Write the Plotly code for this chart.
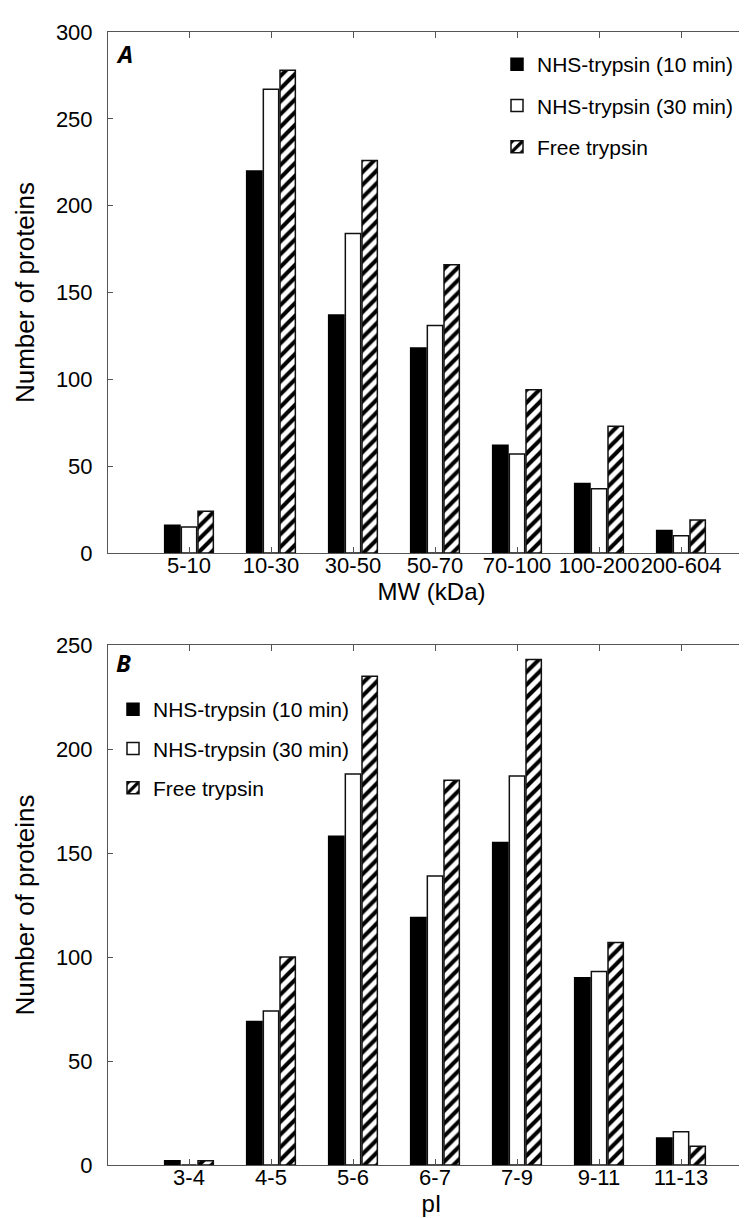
import plotly.graph_objects as go

# ---------------- data ----------------
mw_categories = ["5-10", "10-30", "30-50", "50-70", "70-100", "100-200", "200-604"]
mw_nhs10 = [16, 220, 137, 118, 62, 40, 13]
mw_nhs30 = [15, 267, 184, 131, 57, 37, 10]
mw_free = [24, 278, 226, 166, 94, 73, 19]

pi_categories = ["3-4", "4-5", "5-6", "6-7", "7-9", "9-11", "11-13"]
pi_nhs10 = [2, 69, 158, 119, 155, 90, 13]
pi_nhs30 = [0, 74, 188, 139, 187, 93, 16]
pi_free = [2, 100, 235, 185, 243, 107, 9]

series_names = ["NHS-trypsin (10 min)", "NHS-trypsin (30 min)", "Free trypsin"]

FONT = "Liberation Sans, Arial, Helvetica, sans-serif"
AXIS_COL = "#555555"

W, H = 747, 1218


def styles(i):
    if i == 0:
        return dict(color="black", line=dict(color="black", width=1.5))
    if i == 1:
        return dict(color="white", line=dict(color="#111111", width=1.5))
    return dict(color="white", line=dict(color="#111111", width=1.5),
                pattern=dict(shape="/", fgcolor="black", bgcolor="white",
                             size=9, solidity=0.45, fillmode="replace"))


fig = go.Figure()

panels = [
    (mw_categories, [mw_nhs10, mw_nhs30, mw_free], "x", "y", "legend"),
    (pi_categories, [pi_nhs10, pi_nhs30, pi_free], "x2", "y2", "legend2"),
]
for cats, vals, xa, ya, lg in panels:
    for i, (name, v) in enumerate(zip(series_names, vals)):
        fig.add_trace(go.Bar(
            x=cats, y=v, name=name, marker=styles(i),
            xaxis=xa, yaxis=ya, legend=lg, legendgroup=f"{lg}-{i}",
        ))


def py(px):
    return 1 - px / H


top_dom = [py(545), py(24)]
bot_dom = [py(1157), py(637)]
x_range = [-81 / 82, -81 / 82 + 647 / 82]

xcommon = dict(
    showline=True, linecolor=AXIS_COL, linewidth=1, mirror="ticks",
    ticks="inside", ticklen=6, tickcolor=AXIS_COL, tickwidth=1,
    showgrid=False, zeroline=False, range=x_range, type="category",
    tickangle=0, ticklabelstandoff=-7,
    tickfont=dict(family=FONT, size=22, color="black"),
    title_font=dict(family=FONT, size=24, color="black"),
    automargin=False,
)
ycommon = dict(
    showline=True, linecolor=AXIS_COL, linewidth=1, mirror="ticks",
    ticks="inside", ticklen=5, tickcolor=AXIS_COL, tickwidth=1,
    showgrid=False, zeroline=False, dtick=50, ticklabelstandoff=10,
    tickfont=dict(family=FONT, size=22, color="black"),
    title_font=dict(family=FONT, size=26, color="black"),
    automargin=False,
)

fig.update_layout(
    width=W, height=H,
    margin=dict(l=100, r=0, t=0, b=0),
    paper_bgcolor="white", plot_bgcolor="white",
    barmode="group", bargap=0.39, bargroupgap=0.08,
    xaxis=dict(xcommon, anchor="y", domain=[0, 1],
               title=dict(text="MW (kDa)", standoff=2)),
    yaxis=dict(ycommon, anchor="x", domain=top_dom, range=[0, 300],
               title=dict(text="Number of proteins", standoff=13)),
    xaxis2=dict(xcommon, anchor="y2", domain=[0, 1],
                title=dict(text="pI", standoff=2)),
    yaxis2=dict(ycommon, anchor="x2", domain=bot_dom, range=[0, 250],
                title=dict(text="Number of proteins", standoff=13)),
    legend=dict(x=(489 - 100) / 647, y=py(36), xanchor="left", yanchor="top",
                bgcolor="rgba(0,0,0,0)", font=dict(family=FONT, size=21, color="black"),
                tracegroupgap=11, traceorder="grouped"),
    legend2=dict(x=(105 - 100) / 647, y=py(681), xanchor="left", yanchor="top",
                 bgcolor="rgba(0,0,0,0)", font=dict(family=FONT, size=21, color="black"),
                 tracegroupgap=9, traceorder="grouped"),
    annotations=[
        dict(text="<b><i>A</i></b>", xref="paper", yref="paper", x=(106 - 100) / 647,
             y=py(46), xanchor="left", yanchor="middle", showarrow=False,
             font=dict(family="Open Sans, sans-serif", size=24, color="black")),
        dict(text="<b><i>B</i></b>", xref="paper", yref="paper", x=(106 - 100) / 647,
             y=py(654), xanchor="left", yanchor="middle", showarrow=False,
             font=dict(family="Open Sans, sans-serif", size=24, color="black")),
    ],
)

fig.write_html("out.html")
